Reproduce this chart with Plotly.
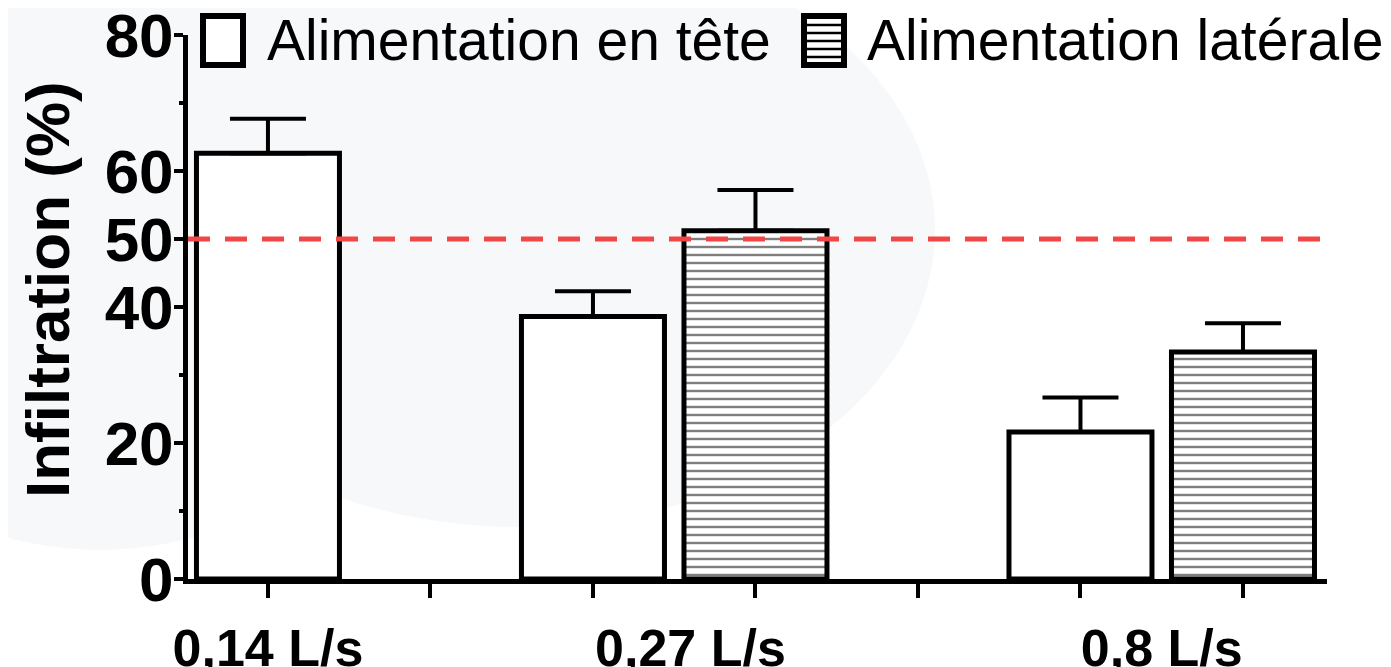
import plotly.graph_objects as go

# ---- data ----
categories = ["0,14 L/s", "0,27 L/s", "0,8 L/s"]
series_names = ["Alimentation en tête", "Alimentation latérale"]
tete_pos = [0, 2, 5]
tete_vals = [62.6, 38.6, 21.6]
tete_err = [5.1, 3.7, 5.1]
lat_pos = [3, 6]
lat_vals = [51.2, 33.4]
lat_err = [6.0, 4.2]
label_pos = [0, 2.6, 5.5]
threshold = 50
y_ticks = [0, 20, 40, 50, 60, 80]

# page body has an 8px margin: the figure starts at (8, 8) in the window
OFF = 8
W, H = 1391 - OFF, 667 - OFF
# plot area edges, in window pixels
L, R, T, B = 188, 1327, 35, 579
FONT = "Arial, Liberation Sans, Helvetica, sans-serif"
BAR_W = 0.88


def px(x):
    return (x - L) / (R - L)


def py(y):
    return (B - y) / (B - T)


fig = go.Figure()

fig.add_trace(go.Bar(
    x=tete_pos, y=tete_vals, width=BAR_W, name=series_names[0],
    marker=dict(color="white", line=dict(color="black", width=5)),
    error_y=dict(type="data", array=tete_err, arrayminus=[0] * len(tete_err),
                 symmetric=False, color="black", thickness=4, width=38),
    showlegend=False,
))
fig.add_trace(go.Bar(
    x=lat_pos, y=lat_vals, width=BAR_W, name=series_names[1],
    marker=dict(color="white", line=dict(color="black", width=5),
                pattern=dict(shape="-", fgcolor="black", bgcolor="white",
                             size=8, solidity=0.3, fillmode="overlay")),
    error_y=dict(type="data", array=lat_err, arrayminus=[0] * len(lat_err),
                 symmetric=False, color="black", thickness=4, width=38),
    showlegend=False,
))

fig.add_hline(y=threshold, line=dict(color="#f24646", width=5, dash="22px,15px"))

shapes = [
    # faint background blobs
    dict(type="circle", xref="paper", yref="paper", layer="below",
         x0=px(-250), x1=px(450), y0=py(550), y1=py(-150),
         fillcolor="#f7f8fa", line=dict(width=0)),
    dict(type="circle", xref="paper", yref="paper", layer="below",
         x0=px(105), x1=px(935), y0=py(527), y1=py(-67),
         fillcolor="#f7f8fa", line=dict(width=0)),
    # legend boxes
    dict(type="rect", xref="paper", yref="paper", layer="above",
         x0=px(203), x1=px(243), y0=py(65), y1=py(16),
         fillcolor="white", line=dict(color="black", width=6)),
    dict(type="rect", xref="paper", yref="paper", layer="above",
         x0=px(804), x1=px(844), y0=py(65), y1=py(16),
         fillcolor="white", line=dict(color="black", width=6)),
]
for yy in [25, 33, 41, 49, 57]:
    shapes.append(dict(type="line", xref="paper", yref="paper", layer="above",
                       x0=px(806), x1=px(842), y0=py(yy), y1=py(yy),
                       line=dict(color="black", width=2.5)))
fig.update_layout(shapes=list(fig.layout.shapes) + shapes)

annotations = [
    dict(text=series_names[0], xref="paper", yref="paper", x=px(265), y=py(40),
         xanchor="left", yanchor="middle", showarrow=False,
         font=dict(family=FONT, size=57, color="black")),
    dict(text=series_names[1], xref="paper", yref="paper", x=px(865), y=py(40),
         xanchor="left", yanchor="middle", showarrow=False,
         font=dict(family=FONT, size=57, color="black")),
    dict(text="<b>Infiltration (%)</b>", xref="paper", yref="paper", x=px(47), y=py(290),
         xanchor="center", yanchor="middle", textangle=-90, showarrow=False,
         font=dict(family=FONT, size=62, color="black")),
]
fig.update_layout(annotations=annotations)

fig.update_layout(
    width=W, height=H,
    margin=dict(l=L - OFF, r=W - (R - OFF), t=T - OFF, b=H - (B - OFF), autoexpand=False),
    paper_bgcolor="white", plot_bgcolor="rgba(0,0,0,0)",
    barmode="overlay", showlegend=False,
    font=dict(family=FONT, color="black"),
    xaxis=dict(
        range=[-0.492, 6.517], showgrid=False, zeroline=False,
        showline=True, linecolor="black", linewidth=5,
        tickvals=label_pos, ticktext=["<b>%s</b>" % c for c in categories],
        ticks="", tickfont=dict(family=FONT, size=52, color="black"),
        ticklabelstandoff=20, ticklabeloverflow="allow",
        minor=dict(tick0=0, dtick=1, ticks="outside", ticklen=14, tickwidth=4,
                   tickcolor="black", showgrid=False),
    ),
    yaxis=dict(
        range=[0, 80], showgrid=False, zeroline=False,
        showline=True, linecolor="black", linewidth=5,
        tickvals=y_ticks, ticktext=["<b>%d</b>" % v for v in y_ticks],
        ticks="outside", ticklen=9, tickwidth=4, tickcolor="black",
        tickfont=dict(family=FONT, size=62, color="black"),
        ticklabeloverflow="allow", ticklabelstandoff=-12,
        minor=dict(tick0=0, dtick=10, ticks="outside", ticklen=4, tickwidth=4,
                   tickcolor="black", showgrid=False),
    ),
)

fig.write_html("out.html")
